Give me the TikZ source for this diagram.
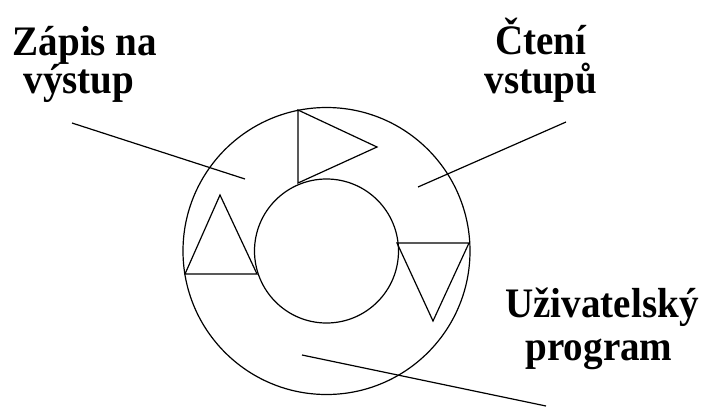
\documentclass[tikz,border=0pt]{standalone}
\usepackage{fontspec}
\setmainfont{Liberation Serif}
\begin{document}
\begin{tikzpicture}[x=1pt,y=-1pt,
  line/.style={line width=1.2pt,black},
  label/.style={font=\fontsize{42}{42}\selectfont\bfseries,inner sep=0pt,anchor=base,xscale=0.93}]
\useasboundingbox (0,0) rectangle (707,408);
% ring
\coordinate (c) at (326.5,251);
\draw[line] (c) circle[radius=143.5];
\draw[line] (c) circle[radius=72];
% arrow heads around the ring
\draw[line,line join=miter] (298,110) -- (298,183) -- (377,147) -- cycle;
\draw[line,line join=miter] (185,274) -- (257,274) -- (220,195) -- cycle;
\draw[line,line join=miter] (397,243) -- (469,243) -- (433,321) -- cycle;
% labels
\node[label] (zap1) at (85,55) {Zápis na};
\node[label] (zap2) at (79,93) {výstup};
\node[label] (cte1) at (541,54) {Čtení};
\node[label] (cte2) at (541,93) {vstupů};
\node[label] (uzi1) at (602,317) {Uživatelský};
\node[label] (uzi2) at (599,360) {program};
% pointers
\coordinate (pz0) at (72,123);  \coordinate (pz1) at (245,179);
\coordinate (pc0) at (566,122); \coordinate (pc1) at (418,187);
\coordinate (pu0) at (302,355); \coordinate (pu1) at (546,406);
\draw[line] (pz0) -- (pz1);
\draw[line] (pc0) -- (pc1);
\draw[line] (pu0) -- (pu1);
\end{tikzpicture}
\end{document}
